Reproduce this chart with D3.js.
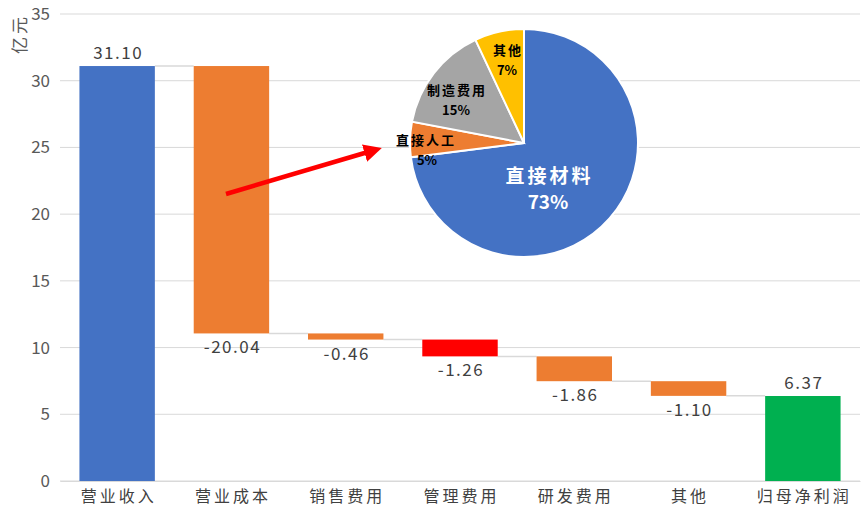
<!DOCTYPE html>
<html>
<head>
<meta charset="utf-8">
<script src="https://cdn.jsdelivr.net/npm/d3@7"></script>
<style>
  body { margin: 0; background: #fff; }
  svg text { font-family: "Noto Sans CJK SC", "Noto Sans", sans-serif; }
</style>
</head>
<body>
<svg id="canvas"></svg>
<script>
const categories = ['营业收入', '营业成本', '销售费用', '管理费用', '研发费用', '其他', '归母净利润']
const values = [31.10, -20.04, -0.46, -1.26, -1.86, -1.10, 6.37]
const barColors = ['#4472C4', '#ED7D31', '#ED7D31', '#FF0000', '#ED7D31', '#ED7D31', '#00B050']
const yTicks = [0, 5, 10, 15, 20, 25, 30, 35]

const pieNames = ['直接材料', '直接人工', '制造费用', '其他']
const pieShares = [73, 5, 15, 7]
const pieColors = ['#4472C4', '#ED7D31', '#A5A5A5', '#FFC000']

let width = 864
let height = 518
let plotLeft = 60, plotRight = 860, plotTop = 14, plotBottom = 481

const svg = d3.select('#canvas')
  .attr('width', width)
  .attr('height', height)

// waterfall start/end for each bar
let running = 0
const steps = values.map((v, i) => {
  let start, end
  if (i === 0 || i === values.length - 1) {
    start = 0; end = v; running = v
  } else {
    start = running; end = running + v; running = end
  }
  return { cat: categories[i], v: v, start: start, end: end, color: barColors[i] }
})

const xScale = d3.scaleBand()
  .domain(categories)
  .range([plotLeft, plotRight])
  .paddingInner(0.34)
  .paddingOuter(0.17)

const yScale = d3.scaleLinear()
  .domain([0, 35])
  .range([plotBottom, plotTop])

// grid
svg.append('g')
  .selectAll('line')
  .data(yTicks)
  .enter()
  .append('line')
  .attr('x1', plotLeft).attr('x2', plotRight)
  .attr('y1', d => yScale(d)).attr('y2', d => yScale(d))
  .attr('stroke', '#D9D9D9')
  .attr('stroke-width', 1)

// y axis labels
const yAxis = d3.axisLeft(yScale).tickValues(yTicks).tickSize(0).tickPadding(10)
const yg = svg.append('g')
  .attr('transform', 'translate(' + plotLeft + ', 0)')
  .call(yAxis)
yg.select('.domain').remove()
yg.selectAll('text')
  .attr('fill', '#595959')
  .style('font-size', '17px')

svg.append('text')
  .attr('transform', 'translate(21, 34) rotate(-90)')
  .attr('text-anchor', 'middle')
  .attr('dominant-baseline', 'middle')
  .attr('fill', '#595959')
  .style('font-size', '17px')
  .style('letter-spacing', '3px')
  .text('亿元')

// x axis labels
const xAxis = d3.axisBottom(xScale).tickSize(0).tickPadding(10)
const xg = svg.append('g')
  .attr('transform', 'translate(0, ' + plotBottom + ')')
  .call(xAxis)
xg.select('.domain').attr('stroke', '#D9D9D9')
xg.selectAll('text')
  .attr('fill', '#404040')
  .attr('dx', '1.5px')
  .style('font-size', '16px')
  .style('letter-spacing', '3px')

// connector lines
svg.append('g')
  .selectAll('line')
  .data(steps.slice(0, -1))
  .enter()
  .append('line')
  .attr('x1', d => xScale(d.cat) + xScale.bandwidth())
  .attr('x2', (d, i) => xScale(categories[i + 1]))
  .attr('y1', d => yScale(d.end))
  .attr('y2', d => yScale(d.end))
  .attr('stroke', '#D9D9D9')
  .attr('stroke-width', 1.5)

// bars
svg.selectAll('rect.bar')
  .data(steps)
  .enter()
  .append('rect')
  .attr('class', 'bar')
  .attr('x', d => xScale(d.cat))
  .attr('width', xScale.bandwidth())
  .attr('y', d => yScale(Math.max(d.start, d.end)))
  .attr('height', d => Math.abs(yScale(d.start) - yScale(d.end)))
  .attr('fill', d => d.color)

// value labels
svg.selectAll('text.val')
  .data(steps)
  .enter()
  .append('text')
  .attr('class', 'val')
  .attr('x', d => xScale(d.cat) + xScale.bandwidth() / 2 + 1)
  .attr('y', d => d.v >= 0 ? yScale(d.end) - 7 : yScale(d.end) + 20)
  .attr('text-anchor', 'middle')
  .attr('fill', '#404040')
  .style('font-size', '17px')
  .style('letter-spacing', '1.5px')
  .text(d => d.v.toFixed(2))

// red arrow pointing at the pie
const defs = svg.append('defs')
defs.append('marker')
  .attr('id', 'head')
  .attr('viewBox', '0 0 10 10')
  .attr('refX', 2).attr('refY', 5)
  .attr('markerWidth', 4).attr('markerHeight', 4)
  .attr('orient', 'auto')
  .append('path')
  .attr('d', 'M0,0 L10,5 L0,10 z')
  .attr('fill', '#FF0000')

svg.append('line')
  .attr('x1', 226).attr('y1', 194)
  .attr('x2', 368).attr('y2', 152)
  .attr('stroke', '#FF0000')
  .attr('stroke-width', 4.5)
  .attr('marker-end', 'url(#head)')

// pie
const cx = 524, cy = 143, r = 114
const pie = d3.pie().sort(null).value(d => d)
const arcs = pie(pieShares)
const arc = d3.arc().innerRadius(0).outerRadius(r)

const pg = svg.append('g').attr('transform', 'translate(' + cx + ',' + cy + ')')
pg.selectAll('path')
  .data(arcs)
  .enter()
  .append('path')
  .attr('d', arc)
  .attr('fill', (d, i) => pieColors[i])
  .attr('stroke', '#fff')
  .attr('stroke-width', 2)

// pie labels (offsets relative to the centre)
const pieLabelPos = [[24, 40], [-99, 2], [-68, -48], [-17, -88]]
pieNames.forEach((name, i) => {
  const big = i === 0
  const t = pg.append('text')
    .attr('text-anchor', 'middle')
    .attr('fill', big ? '#fff' : '#000')
    .style('font-weight', 'bold')
    .style('font-size', big ? '19px' : '13px')
  t.append('tspan')
    .attr('x', pieLabelPos[i][0])
    .attr('y', pieLabelPos[i][1])
    .attr('dx', big ? 1.5 : 1)
    .style('letter-spacing', big ? '3px' : '2px')
    .text(name)
  t.append('tspan')
    .attr('x', pieLabelPos[i][0] + (i === 1 ? 2 : 0))
    .attr('y', pieLabelPos[i][1] + (big ? 26 : 20))
    .text(pieShares[i] + '%')
})
</script>
</body>
</html>
